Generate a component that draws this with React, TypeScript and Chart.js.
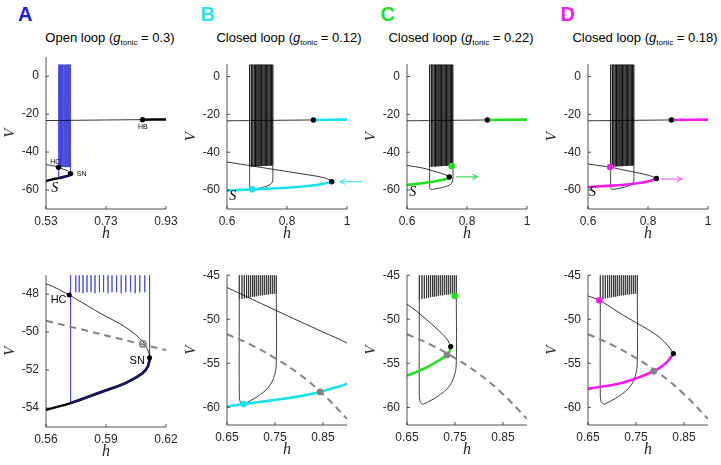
import { useEffect, useRef } from 'react';
import { Chart, registerables } from 'chart.js';

Chart.register(...registerables);

// ---------------- tick values ----------------
const TOP_A_XTICKS = [0.53, 0.73, 0.93];
const TOP_XTICKS = [0.6, 0.8, 1];
const TOP_YTICKS = [0, -20, -40, -60];
const BOT_A_XTICKS = [0.56, 0.59, 0.62];
const BOT_A_YTICKS = [-48, -50, -52, -54];
const BOT_XTICKS = [0.65, 0.75, 0.85];
const BOT_YTICKS = [-45, -50, -55, -60];

// ---------------- titles ----------------
const PANEL_LETTERS = ['A', 'B', 'C', 'D'];
const TITLE_PREFIX = ['Open loop', 'Closed loop', 'Closed loop', 'Closed loop'];
const G_TONIC = ['0.3', '0.12', '0.22', '0.18'];

// ---------------- column A (open loop) ----------------
const A_MID_H = [0.53, 0.545, 0.56, 0.5716, 0.587, 0.6, 0.6084, 0.6109, 0.612];
const A_MID_V = [-46.6, -47.0, -47.45, -48.05, -49.0, -49.76, -50.5, -50.95, -51.35];
const A_LOW_H = [0.53, 0.545, 0.56, 0.5723, 0.587, 0.6, 0.6084, 0.6109, 0.612];
const A_LOW_V = [-55.3, -54.65, -54.1, -53.74, -53.18, -52.67, -52.15, -51.81, -51.35];
const A_HB_THIN_H = [0.53, 0.852];
const A_HB_THIN_V = [-23.4, -22.9];
const A_HB_THICK_H = [0.852, 0.93];
const A_HB_THICK_V = [-22.9, -22.8];
const A_SPIKE_H = [0.5723, 0.5749, 0.5766, 0.5785, 0.5805, 0.5825, 0.5845, 0.5867, 0.5888, 0.591, 0.593, 0.5953, 0.5976, 0.5999, 0.6023, 0.6046, 0.6069, 0.6094, 0.6118];
const A_SPIKE_LO = [-53.74, -47.9, -47.9, -47.95, -47.9, -47.9, -47.95, -47.9, -47.9, -47.95, -47.9, -47.9, -47.95, -47.9, -47.9, -47.95, -47.9, -47.9, -51.35];
const A_SPIKE_PEAK = 6;
const A_BLACK_DOT_H = [0.852, 0.5716, 0.6118];
const A_BLACK_DOT_V = [-22.9, -48.05, -51.35];
const A_NULL_H = [0.56, 0.62];
const A_NULL_V = [-49.4, -50.95];
const A_GRAY_DOT_H = [0.6084];
const A_GRAY_DOT_V = [-50.62];

// ---------------- shared closed-loop trajectory (B, C, D) ----------------
const CL_SPIKE_H = [0.6756, 0.6812, 0.6861, 0.6909, 0.6951, 0.6992, 0.7034, 0.7069, 0.711, 0.7152, 0.7194, 0.7236, 0.7277, 0.7319, 0.736, 0.7402, 0.7444, 0.7485, 0.7527];
const CL_SPIKE_LO = [-47.75, -47.7, -47.65, -47.6, -47.55, -47.5, -47.45, -47.45, -47.4, -47.35, -47.3, -47.3, -47.25, -47.2, -47.2, -47.15, -47.15, -47.1, -47.1];
const CL_SPIKE_PEAK = 6.2;
const CL_LEFT_H = [0.6756, 0.6756, 0.6768, 0.68, 0.6846];
const CL_LEFT_V = [-47.75, -58.6, -59.25, -59.55, -59.63];
const CL_RIGHT_H = [0.6846, 0.7, 0.7125, 0.7367, 0.7492, 0.7527, 0.7527];
const CL_RIGHT_V = [-59.63, -59.2, -58.8, -57.7, -56.3, -54.8, -47.1];
const CL_NULL_H = [0.65, 0.7, 0.75, 0.8, 0.85, 0.9];
const CL_NULL_V = [-51.7, -52.9, -54.4, -56.2, -58.5, -61.3];

// ---------------- column B ----------------
const B_MID_H = [0.6, 0.65, 0.75, 0.85, 0.9, 0.925, 0.94, 0.949];
const B_MID_V = [-45.2, -46.4, -48.95, -51.45, -52.7, -53.6, -54.5, -55.6];
const B_LOW_H = [0.6, 0.65, 0.6846, 0.75, 0.8, 0.844, 0.875, 0.9, 0.925, 0.94, 0.949];
const B_LOW_V = [-60.3, -59.9, -59.63, -59.15, -58.75, -58.25, -57.75, -57.3, -56.5, -56.0, -55.6];
const B_HB_THIN_H = [0.6, 0.888];
const B_HB_THIN_V = [-23.4, -22.95];
const B_HB_THICK_H = [0.888, 1.0];
const B_HB_THICK_V = [-22.95, -22.8];
const B_BLACK_DOT_H = [0.888, 0.949];
const B_BLACK_DOT_V = [-22.95, -55.6];
const B_COLOR_DOT_H = [0.6846];
const B_COLOR_DOT_V = [-59.63];
const B_GRAY_DOT_H = [0.844];
const B_GRAY_DOT_V = [-58.25];
const B_ARROW_H = [1.0525, 0.9756];
const B_ARROW_V = [-55.6, -55.6];

// ---------------- column C ----------------
const C_MID_H = [0.6, 0.65, 0.6896, 0.7243, 0.735, 0.741];
const C_MID_V = [-47.0, -48.3, -50.0, -51.7, -52.4, -53.1];
const C_LOW_H = [0.6, 0.65, 0.6896, 0.7243, 0.7333, 0.739, 0.741];
const C_LOW_V = [-57.3, -56.4, -55.5, -54.4, -54.05, -53.6, -53.1];
const C_HB_THIN_H = [0.6, 0.868];
const C_HB_THIN_V = [-23.4, -22.95];
const C_HB_THICK_H = [0.868, 1.0];
const C_HB_THICK_V = [-22.95, -22.8];
const C_BLACK_DOT_H = [0.868, 0.741];
const C_BLACK_DOT_V = [-22.95, -53.1];
const C_COLOR_DOT_H = [0.7495];
const C_COLOR_DOT_V = [-47.35];
const C_GRAY_DOT_H = [0.7333];
const C_GRAY_DOT_V = [-54.05];
const C_ARROW_H = [0.764, 0.836];
const C_ARROW_V = [-53.0, -53.0];

// ---------------- column D ----------------
const D_MID_H = [0.6, 0.65, 0.6736, 0.7222, 0.79, 0.815, 0.828];
const D_MID_V = [-46.2, -47.35, -47.85, -49.5, -51.7, -52.9, -53.9];
const D_LOW_H = [0.6, 0.65, 0.7222, 0.7868, 0.812, 0.828];
const D_LOW_V = [-58.5, -57.9, -57.2, -55.9, -55.0, -53.9];
const D_HB_THIN_H = [0.6, 0.878];
const D_HB_THIN_V = [-23.4, -22.95];
const D_HB_THICK_H = [0.878, 1.0];
const D_HB_THICK_V = [-22.95, -22.8];
const D_BLACK_DOT_H = [0.878, 0.828];
const D_BLACK_DOT_V = [-22.95, -53.9];
const D_COLOR_DOT_H = [0.6736];
const D_COLOR_DOT_V = [-47.85];
const D_GRAY_DOT_H = [0.7868];
const D_GRAY_DOT_V = [-55.9];
const D_ARROW_H = [0.841, 0.914];
const D_ARROW_V = [-54.2, -54.2];

// ---------------- styles ----------------
const LETTER_COLORS = ['#1e1ee0', '#33dfee', '#22dd22', '#ee22ee'];
const CYAN = '#17e2ee';
const GREEN = '#20e020';
const MAGENTA = '#f01cf0';
const BLUE_TRAJ = '#3a3ad8';
const NAVY = '#16165e';
const GRAY = '#838383';
const AXIS = '#262626';
const SANS = '"Liberation Sans", Arial, Helvetica, sans-serif';
const SERIF = '"Liberation Serif", "Times New Roman", serif';

const pts = (hs: number[], vs: number[]) => hs.map((h, i) => ({ x: h, y: vs[i] }));

function curve(hs: number[], vs: number[], color: string, width: number, extra: any = {}) {
  return {
    data: pts(hs, vs), showLine: true, borderColor: color, borderWidth: width,
    pointRadius: 0, pointHoverRadius: 0, tension: 0.4, fill: false,
    borderCapStyle: 'butt', borderJoinStyle: 'round', ...extra,
  };
}

function spikes(hs: number[], los: number[], peak: number, color: string, width: number) {
  const data: { x: number; y: number }[] = [];
  hs.forEach((h, i) => {
    data.push({ x: h, y: peak }, { x: h, y: los[i] }, { x: h, y: peak });
  });
  return {
    data, showLine: true, borderColor: color, borderWidth: width, pointRadius: 0,
    pointHoverRadius: 0, tension: 0, fill: false, borderJoinStyle: 'bevel',
  };
}

function dots(hs: number[], vs: number[], color: string, r: number, extra: any = {}) {
  return {
    data: pts(hs, vs), showLine: false, pointRadius: r, pointHoverRadius: r,
    pointBackgroundColor: color, pointBorderColor: color, pointBorderWidth: 0, ...extra,
  };
}

function arrow(hs: number[], vs: number[], color: string) {
  return { h0: hs[0], v0: vs[0], h1: hs[1], v1: vs[1], color };
}

const aTrajStart = A_LOW_H.findIndex((h) => h >= A_SPIKE_H[0] - 1e-9);
const A_TRAJ_LOW_H = A_LOW_H.slice(aTrajStart);
const A_TRAJ_LOW_V = A_LOW_V.slice(aTrajStart);

const lbl = (text: string, h: number, v: number, font: string) => ({ text, h, v, font });
const SMALL = `7px ${SANS}`;
const MID = `11px ${SANS}`;
const SCRIPT = `italic 14px ${SERIF}`;

type PanelCfg = {
  rect: [number, number, number, number];
  xr: [number, number];
  yr: [number, number];
  xTicks: number[];
  yTicks: number[];
  datasets: any[]; // bottom to top
  labels: { text: string; h: number; v: number; font: string }[];
  arrows: { h0: number; v0: number; h1: number; v1: number; color: string }[];
};

function closedTop(mh, mv, lh, lv, hbTh, hbTv, hbKh, hbKv, bh, bv, ch, cv, color): any {
  return [
    spikes(CL_SPIKE_H, CL_SPIKE_LO, CL_SPIKE_PEAK, '#000', 0.75),
    curve(CL_LEFT_H, CL_LEFT_V, '#111', 0.8),
    curve(CL_RIGHT_H, CL_RIGHT_V, '#111', 0.8),
    curve(mh, mv, '#000', 0.8),
    curve(hbTh, hbTv, '#000', 0.8),
    curve(lh, lv, color, 2.6),
    curve(hbKh, hbKv, color, 2.6),
    dots(bh, bv, '#000', 2.7),
    dots(ch, cv, color, 3.3),
  ];
}

function closedBottom(mh, mv, lh, lv, bh, bv, ch, cv, gh, gv, color): any {
  return [
    spikes(CL_SPIKE_H, CL_SPIKE_LO, CL_SPIKE_PEAK, '#111', 0.7),
    curve(CL_LEFT_H, CL_LEFT_V, '#111', 0.8),
    curve(CL_RIGHT_H, CL_RIGHT_V, '#111', 0.8),
    curve(mh, mv, '#000', 0.8),
    curve(CL_NULL_H, CL_NULL_V, GRAY, 2, { borderDash: [7, 5] }),
    curve(lh, lv, color, 2.6),
    dots(bh, bv, '#000', 2.6),
    dots(ch, cv, color, 3.3),
    dots(gh, gv, GRAY, 3.4),
  ];
}

const PANELS: PanelCfg[] = [
  {
    rect: [46, 53, 166, 209], xr: [0.53, 0.93], yr: [-70, 10], xTicks: TOP_A_XTICKS, yTicks: TOP_YTICKS,
    datasets: [
      spikes(A_SPIKE_H, A_SPIKE_LO, A_SPIKE_PEAK, BLUE_TRAJ, 0.75),
      curve(A_MID_H, A_MID_V, '#000', 0.8),
      curve(A_HB_THIN_H, A_HB_THIN_V, '#000', 0.8),
      curve(A_LOW_H, A_LOW_V, '#000', 2.5),
      curve(A_HB_THICK_H, A_HB_THICK_V, '#000', 2.5),
      curve(A_TRAJ_LOW_H, A_TRAJ_LOW_V, NAVY, 2.5),
      dots(A_BLACK_DOT_H, A_BLACK_DOT_V, '#000', 2.7),
    ],
    labels: [
      lbl('HB', 0.8527, -27.0, SMALL), lbl('HC', 0.5607, -45.0, SMALL),
      lbl('SN', 0.649, -51.6, SMALL), lbl('S', 0.5594, -59.2, SCRIPT),
    ],
    arrows: [],
  },
  {
    rect: [227, 60, 347, 209], xr: [0.6, 1], yr: [-70, 6.5], xTicks: TOP_XTICKS, yTicks: TOP_YTICKS,
    datasets: closedTop(B_MID_H, B_MID_V, B_LOW_H, B_LOW_V, B_HB_THIN_H, B_HB_THIN_V, B_HB_THICK_H, B_HB_THICK_V,
      B_BLACK_DOT_H, B_BLACK_DOT_V, B_COLOR_DOT_H, B_COLOR_DOT_V, CYAN),
    labels: [lbl('S', 0.619, -63.4, SCRIPT)],
    arrows: [arrow(B_ARROW_H, B_ARROW_V, '#5fe6f0')],
  },
  {
    rect: [407, 60, 527, 209], xr: [0.6, 1], yr: [-70, 6.5], xTicks: TOP_XTICKS, yTicks: TOP_YTICKS,
    datasets: closedTop(C_MID_H, C_MID_V, C_LOW_H, C_LOW_V, C_HB_THIN_H, C_HB_THIN_V, C_HB_THICK_H, C_HB_THICK_V,
      C_BLACK_DOT_H, C_BLACK_DOT_V, C_COLOR_DOT_H, C_COLOR_DOT_V, GREEN),
    labels: [lbl('S', 0.619, -61.2, SCRIPT)],
    arrows: [arrow(C_ARROW_H, C_ARROW_V, '#4edc72')],
  },
  {
    rect: [588, 60, 708, 209], xr: [0.6, 1], yr: [-70, 6.5], xTicks: TOP_XTICKS, yTicks: TOP_YTICKS,
    datasets: closedTop(D_MID_H, D_MID_V, D_LOW_H, D_LOW_V, D_HB_THIN_H, D_HB_THIN_V, D_HB_THICK_H, D_HB_THICK_V,
      D_BLACK_DOT_H, D_BLACK_DOT_V, D_COLOR_DOT_H, D_COLOR_DOT_V, MAGENTA),
    labels: [lbl('S', 0.615, -61.2, SCRIPT)],
    arrows: [arrow(D_ARROW_H, D_ARROW_V, '#ee7cee')],
  },
  {
    rect: [46, 271, 166, 427], xr: [0.56, 0.62], yr: [-55, -47], xTicks: BOT_A_XTICKS, yTicks: BOT_A_YTICKS,
    datasets: [
      spikes(A_SPIKE_H, A_SPIKE_LO, A_SPIKE_PEAK, BLUE_TRAJ, 0.8),
      curve(A_MID_H, A_MID_V, '#000', 0.8),
      curve(A_NULL_H, A_NULL_V, GRAY, 2, { borderDash: [7, 5] }),
      curve(A_LOW_H, A_LOW_V, '#000', 2.5),
      curve(A_TRAJ_LOW_H, A_TRAJ_LOW_V, NAVY, 2.5),
      dots(A_BLACK_DOT_H, A_BLACK_DOT_V, '#000', 2.5),
      dots(A_GRAY_DOT_H, A_GRAY_DOT_V, 'rgba(0,0,0,0)', 3.2, { pointBorderColor: GRAY, pointBorderWidth: 1.5 }),
    ],
    labels: [lbl('HC', 0.5663, -48.29, MID), lbl('SN', 0.6056, -51.54, MID)],
    arrows: [],
  },
  {
    rect: [227, 271, 347, 425], xr: [0.65, 0.9], yr: [-62, -45], xTicks: BOT_XTICKS, yTicks: BOT_YTICKS,
    datasets: closedBottom(B_MID_H, B_MID_V, B_LOW_H, B_LOW_V, B_BLACK_DOT_H, B_BLACK_DOT_V,
      B_COLOR_DOT_H, B_COLOR_DOT_V, B_GRAY_DOT_H, B_GRAY_DOT_V, CYAN),
    labels: [], arrows: [],
  },
  {
    rect: [407, 271, 527, 425], xr: [0.65, 0.9], yr: [-62, -45], xTicks: BOT_XTICKS, yTicks: BOT_YTICKS,
    datasets: closedBottom(C_MID_H, C_MID_V, C_LOW_H, C_LOW_V, C_BLACK_DOT_H, C_BLACK_DOT_V,
      C_COLOR_DOT_H, C_COLOR_DOT_V, C_GRAY_DOT_H, C_GRAY_DOT_V, GREEN),
    labels: [], arrows: [],
  },
  {
    rect: [588, 271, 708, 425], xr: [0.65, 0.9], yr: [-62, -45], xTicks: BOT_XTICKS, yTicks: BOT_YTICKS,
    datasets: closedBottom(D_MID_H, D_MID_V, D_LOW_H, D_LOW_V, D_BLACK_DOT_H, D_BLACK_DOT_V,
      D_COLOR_DOT_H, D_COLOR_DOT_V, D_GRAY_DOT_H, D_GRAY_DOT_V, MAGENTA),
    labels: [], arrows: [],
  },
];

const Y_W = 46;
const X_H = 40;
const PAD_T = 10;
const PAD_R = 20;

function makeDeco(cfg: PanelCfg) {
  return {
    id: 'deco',
    afterDraw(chart: any) {
      const { ctx } = chart;
      const { left, right, top, bottom } = chart.chartArea;
      const xs = chart.scales.x;
      const ys = chart.scales.y;
      ctx.save();
      ctx.strokeStyle = AXIS;
      ctx.lineWidth = 0.8;
      ctx.beginPath();
      ctx.moveTo(left, top);
      ctx.lineTo(left, bottom);
      ctx.lineTo(right, bottom);
      ctx.stroke();
      ctx.beginPath();
      for (const v of cfg.xTicks) {
        const p = xs.getPixelForValue(v);
        ctx.moveTo(p, bottom);
        ctx.lineTo(p, bottom - 3);
      }
      for (const v of cfg.yTicks) {
        const p = ys.getPixelForValue(v);
        ctx.moveTo(left, p);
        ctx.lineTo(left + 3, p);
      }
      ctx.stroke();
      ctx.fillStyle = AXIS;
      ctx.font = `italic 16px ${SERIF}`;
      ctx.textAlign = 'center';
      ctx.textBaseline = 'middle';
      ctx.fillText('h', (left + right) / 2, bottom + 25);
      ctx.save();
      ctx.translate(left - 35.5, (top + bottom) / 2);
      ctx.rotate(-Math.PI / 2);
      ctx.font = `italic 15px ${SERIF}`;
      ctx.fillText('V', 0, 0);
      ctx.restore();
      ctx.fillStyle = '#000';
      for (const l of cfg.labels) {
        ctx.font = l.font;
        ctx.fillText(l.text, xs.getPixelForValue(l.h), ys.getPixelForValue(l.v));
      }
      for (const a of cfg.arrows) {
        const x0 = xs.getPixelForValue(a.h0);
        const y0 = ys.getPixelForValue(a.v0);
        const x1 = xs.getPixelForValue(a.h1);
        const y1 = ys.getPixelForValue(a.v1);
        ctx.strokeStyle = a.color;
        ctx.lineWidth = 1.3;
        ctx.beginPath();
        ctx.moveTo(x0, y0);
        ctx.lineTo(x1, y1);
        ctx.stroke();
        const ang = Math.atan2(y1 - y0, x1 - x0);
        const hl = 6;
        ctx.beginPath();
        ctx.moveTo(x1 - hl * Math.cos(ang - 0.45), y1 - hl * Math.sin(ang - 0.45));
        ctx.lineTo(x1, y1);
        ctx.lineTo(x1 - hl * Math.cos(ang + 0.45), y1 - hl * Math.sin(ang + 0.45));
        ctx.stroke();
      }
      ctx.restore();
    },
  };
}

function Panel({ cfg }: { cfg: PanelCfg }) {
  const ref = useRef<HTMLCanvasElement | null>(null);
  const [L, T, R, B] = cfg.rect;
  const W = R - L + Y_W + PAD_R;
  const H = B - T + PAD_T + X_H;
  useEffect(() => {
    if (!ref.current) return;
    const tickFont = { family: SANS, size: 12 };
    const chart = new Chart(ref.current, {
      type: 'scatter',
      data: { datasets: [...cfg.datasets].reverse() },
      plugins: [makeDeco(cfg)],
      options: {
        animation: false,
        responsive: false,
        events: [],
        layout: { padding: { left: 0, top: PAD_T, right: PAD_R, bottom: 0 } },
        plugins: { legend: { display: false }, tooltip: { enabled: false }, title: { display: false } },
        scales: {
          x: {
            type: 'linear', position: 'bottom', min: cfg.xr[0], max: cfg.xr[1],
            grid: { display: false, drawTicks: false, tickLength: 0 },
            border: { display: false },
            afterBuildTicks: (axis: any) => { axis.ticks = cfg.xTicks.map((v) => ({ value: v })); },
            afterFit: (axis: any) => { axis.height = X_H; },
            ticks: { autoSkip: false, maxRotation: 0, minRotation: 0, padding: 5, color: AXIS, font: tickFont, callback: (v: any) => String(v) },
          },
          y: {
            type: 'linear', position: 'left', min: cfg.yr[0], max: cfg.yr[1],
            grid: { display: false, drawTicks: false, tickLength: 0 },
            border: { display: false },
            afterBuildTicks: (axis: any) => { axis.ticks = cfg.yTicks.map((v) => ({ value: v })); },
            afterFit: (axis: any) => { axis.width = Y_W; },
            ticks: { autoSkip: false, padding: 7, color: AXIS, font: tickFont, callback: (v: any) => String(v) },
          },
        },
      } as any,
    } as any);
    return () => chart.destroy();
  }, [cfg]);
  return (
    <canvas
      ref={ref}
      width={W}
      height={H}
      style={{ position: 'absolute', left: L - Y_W, top: T - PAD_T, width: W, height: H, display: 'block' }}
    />
  );
}

const LETTER_LEFT = [18, 200.5, 380.5, 560.5];
const TITLE_CENTER = [110, 289, 461, 645];

export default function App() {
  return (
    <div style={{ position: 'absolute', left: 0, top: 0, width: 721, height: 465, background: '#fff', overflow: 'hidden' }}>
      {PANEL_LETTERS.map((l, i) => (
        <div key={'L' + l} style={{ position: 'absolute', left: LETTER_LEFT[i], top: 4, font: `bold 20px ${SANS}`, lineHeight: '20px', color: LETTER_COLORS[i] }}>{l}</div>
      ))}
      {TITLE_PREFIX.map((p, i) => (
        <div key={'T' + i} style={{ position: 'absolute', left: TITLE_CENTER[i], top: 31, transform: 'translateX(-50%)', whiteSpace: 'nowrap', font: `13px ${SANS}`, lineHeight: '13px', color: '#000' }}>
          {p} (<i>g</i><span style={{ fontSize: '8px', position: 'relative', top: '3px' }}>tonic</span> = {G_TONIC[i]})
        </div>
      ))}
      {PANELS.map((cfg, i) => <Panel key={i} cfg={cfg} />)}
    </div>
  );
}
